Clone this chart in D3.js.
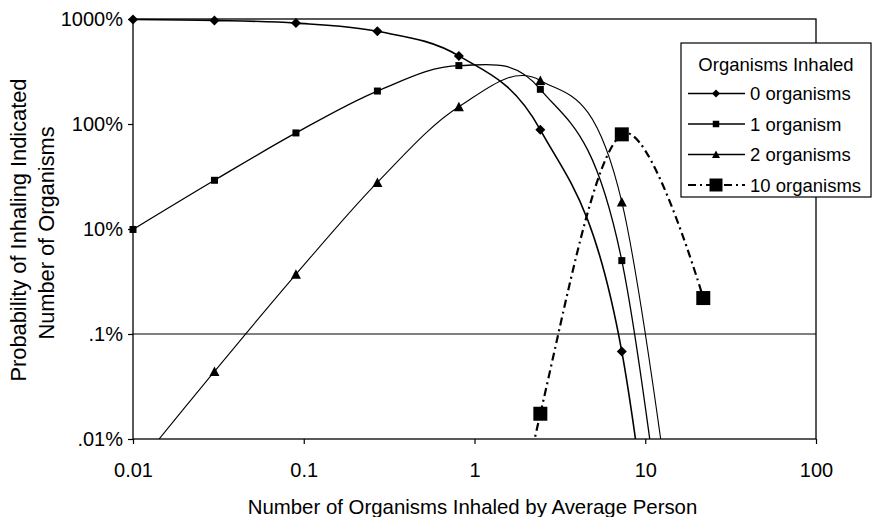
<!DOCTYPE html>
<html lang="en">
<head>
  <meta charset="UTF-8">
  <title>Organisms Inhaled</title>
  <style>
    body {
      margin: 0;
      background: #fff;
      font-family: "Liberation Sans", Arial, Helvetica, sans-serif;
    }
    svg text {
      fill: #000;
    }
    .axis path, .axis line {
      stroke: #000;
      stroke-width: 1.2;
    }
    .axis text {
      font-size: 20px;
      font-family: "Liberation Sans", Arial, Helvetica, sans-serif;
    }
    .axis_legend {
      font-size: 20.4px;
      text-anchor: middle;
    }
    .y_legend {
      font-size: 21.8px;
      text-anchor: middle;
    }
    .series {
      fill: none;
      stroke: #000;
    }
    .legend text {
      font-size: 18.5px;
    }
  </style>
  <script src="https://d3js.org/d3.v7.min.js"></script>
</head>
<body>
  <div id="chart"></div>
  <script>
/* global d3 */

// average number inhaled (x) and probability of each count (y)
var xValues = [0.01, 0.03, 0.09, 0.27, 0.81, 2.43, 7.29, 21.87];
var org0 = [0.990, 0.970, 0.914, 0.763, 0.445, 0.088, 0.00068, 3.2e-10];
var org1 = [0.0099, 0.0291, 0.0822, 0.206, 0.360, 0.214, 0.0050, 6.9e-9];
var org2 = [4.95e-5, 4.4e-4, 0.0037, 0.0278, 0.146, 0.260, 0.0181, 7.6e-8];
var org10 = [2.7e-27, 1.6e-22, 8.8e-18, 4.3e-13, 1.5e-8, 1.74e-4, 0.0797, 0.0022];

var seriesNames = ["0 organisms", "1 organism", "2 organisms", "10 organisms"];

var xTickValues = [0.01, 0.1, 1, 10, 100];
var xTickLabels = ["0.01", "0.1", "1", "10", "100"];
var yTickValues = [1, 0.1, 0.01, 0.001, 0.0001];
var yTickLabels = ["1000%", "100%", "10%", ".1%", ".01%"];

var width = 873,
  height = 517,
  margin = {top: 19, right: 57, bottom: 78, left: 133},
  plotW = width - margin.left - margin.right,
  plotH = height - margin.top - margin.bottom;

var styles = [
  {symbol: "diamond", size: 10, legendSize: 8, width: 1.6, dash: null},
  {symbol: "square", size: 7, legendSize: 6.5, width: 1.3, dash: null},
  {symbol: "triangle", size: 10, legendSize: 8, width: 1.1, dash: null},
  {symbol: "square", size: 14, legendSize: 13, width: 2.2, dash: "8,4,2,4"}
];

var series = [org0, org1, org2, org10].map(function (vals, i) {
  return {
    name: seriesNames[i],
    style: styles[i],
    values: vals.map(function (v, j) { return {x: xValues[j], y: v}; })
  };
});

var svg = d3.select("#chart")
  .append("svg")
  .attr("width", width)
  .attr("height", height);

var x = d3.scaleLog().domain([0.01, 100]).range([0, plotW]);
var y = d3.scaleLog().domain([0.0001, 1]).range([plotH, 0]);

var g = svg.append("g")
  .attr("transform", "translate(" + margin.left + "," + margin.top + ")");

g.append("clipPath")
  .attr("id", "plotClip")
  .append("rect")
  .attr("x", 0)
  .attr("y", -2)
  .attr("width", plotW)
  .attr("height", plotH + 2);

// plot frame
g.append("rect")
  .attr("width", plotW)
  .attr("height", plotH)
  .attr("fill", "none")
  .attr("stroke", "#000")
  .attr("stroke-width", 1.3);

// single gridline at .1%
g.append("line")
  .attr("x1", 0)
  .attr("x2", plotW)
  .attr("y1", y(0.001))
  .attr("y2", y(0.001))
  .attr("stroke", "#000")
  .attr("stroke-width", 1);

function markerPath(style, s) {
  var h = s / 2;
  if (style.symbol === "diamond") {
    return "M0," + (-h) + "L" + h + ",0L0," + h + "L" + (-h) + ",0Z";
  }
  if (style.symbol === "triangle") {
    return "M0," + (-h) + "L" + h + "," + (h * 0.9) + "L" + (-h) + "," + (h * 0.9) + "Z";
  }
  return "M" + (-h) + "," + (-h) + "H" + h + "V" + h + "H" + (-h) + "Z";
}

// Excel style smoothed lines
var line = d3.line()
  .x(function (d) { return x(d.x); })
  .y(function (d) { return y(d.y); })
  .curve(d3.curveCardinal.tension(0));

var gSeries = g.append("g").attr("class", "seriesGroup");

gSeries.selectAll(".series")
  .data(series)
  .enter()
  .append("path")
  .attr("class", "series")
  .attr("clip-path", "url(#plotClip)")
  .attr("stroke-width", function (d) { return d.style.width; })
  .attr("stroke-dasharray", function (d) { return d.style.dash; })
  .attr("d", function (d) { return line(d.values); });

series.forEach(function (s) {
  gSeries.selectAll(null)
    .data(s.values.filter(function (d) { return d.y >= 0.0001 && d.y <= 1; }))
    .enter()
    .append("path")
    .attr("transform", function (d) { return "translate(" + x(d.x) + "," + y(d.y) + ")"; })
    .attr("d", markerPath(s.style, s.style.size))
    .attr("fill", "#000");
});

// axes
g.append("g")
  .attr("class", "axis axis--x")
  .attr("transform", "translate(0," + plotH + ")")
  .call(d3.axisBottom(x)
    .tickValues(xTickValues)
    .tickFormat(function (d, i) { return xTickLabels[i]; })
    .tickSizeInner(5)
    .tickSizeOuter(0)
    .tickPadding(19))
  .call(function (a) { a.select(".domain").remove(); })
  .selectAll("text").attr("dy", "0.71em");

g.append("g")
  .attr("class", "axis axis--y")
  .call(d3.axisLeft(y)
    .tickValues(yTickValues)
    .tickFormat(function (d, i) { return yTickLabels[i]; })
    .tickSizeInner(5)
    .tickSizeOuter(0)
    .tickPadding(5))
  .call(function (a) { a.select(".domain").remove(); });

// axis titles
svg.append("text")
  .attr("class", "axis_legend")
  .attr("x", margin.left + plotW / 2 - 2)
  .attr("y", 514)
  .text("Number of Organisms Inhaled by Average Person");

svg.append("text")
  .attr("class", "y_legend")
  .attr("transform", "translate(26,230) rotate(-90)")
  .text("Probability of Inhaling Indicated");

svg.append("text")
  .attr("class", "y_legend")
  .attr("transform", "translate(54,233) rotate(-90)")
  .text("Number of Organisms");

// legend
var legend = svg.append("g")
  .attr("class", "legend")
  .attr("transform", "translate(681,43)");

legend.append("rect")
  .attr("width", 190)
  .attr("height", 154)
  .attr("fill", "#fff")
  .attr("stroke", "#000")
  .attr("stroke-width", 1.2);

legend.append("text")
  .attr("x", 95)
  .attr("y", 27.5)
  .attr("text-anchor", "middle")
  .text("Organisms Inhaled");

var items = legend.selectAll(".item")
  .data(series)
  .enter()
  .append("g")
  .attr("class", "item")
  .attr("transform", function (d, i) { return "translate(0," + (50.5 + i * 30.5) + ")"; });

items.append("line")
  .attr("x1", 7)
  .attr("x2", 64)
  .attr("stroke", "#000")
  .attr("stroke-width", function (d) { return Math.max(1.3, d.style.width); })
  .attr("stroke-dasharray", function (d) { return d.style.dash; });

items.append("path")
  .attr("transform", "translate(35,0)")
  .attr("d", function (d) { return markerPath(d.style, d.style.legendSize); })
  .attr("fill", "#000");

items.append("text")
  .attr("x", 69)
  .attr("y", 6.5)
  .text(function (d) { return d.name; });
  </script>
</body>
</html>
